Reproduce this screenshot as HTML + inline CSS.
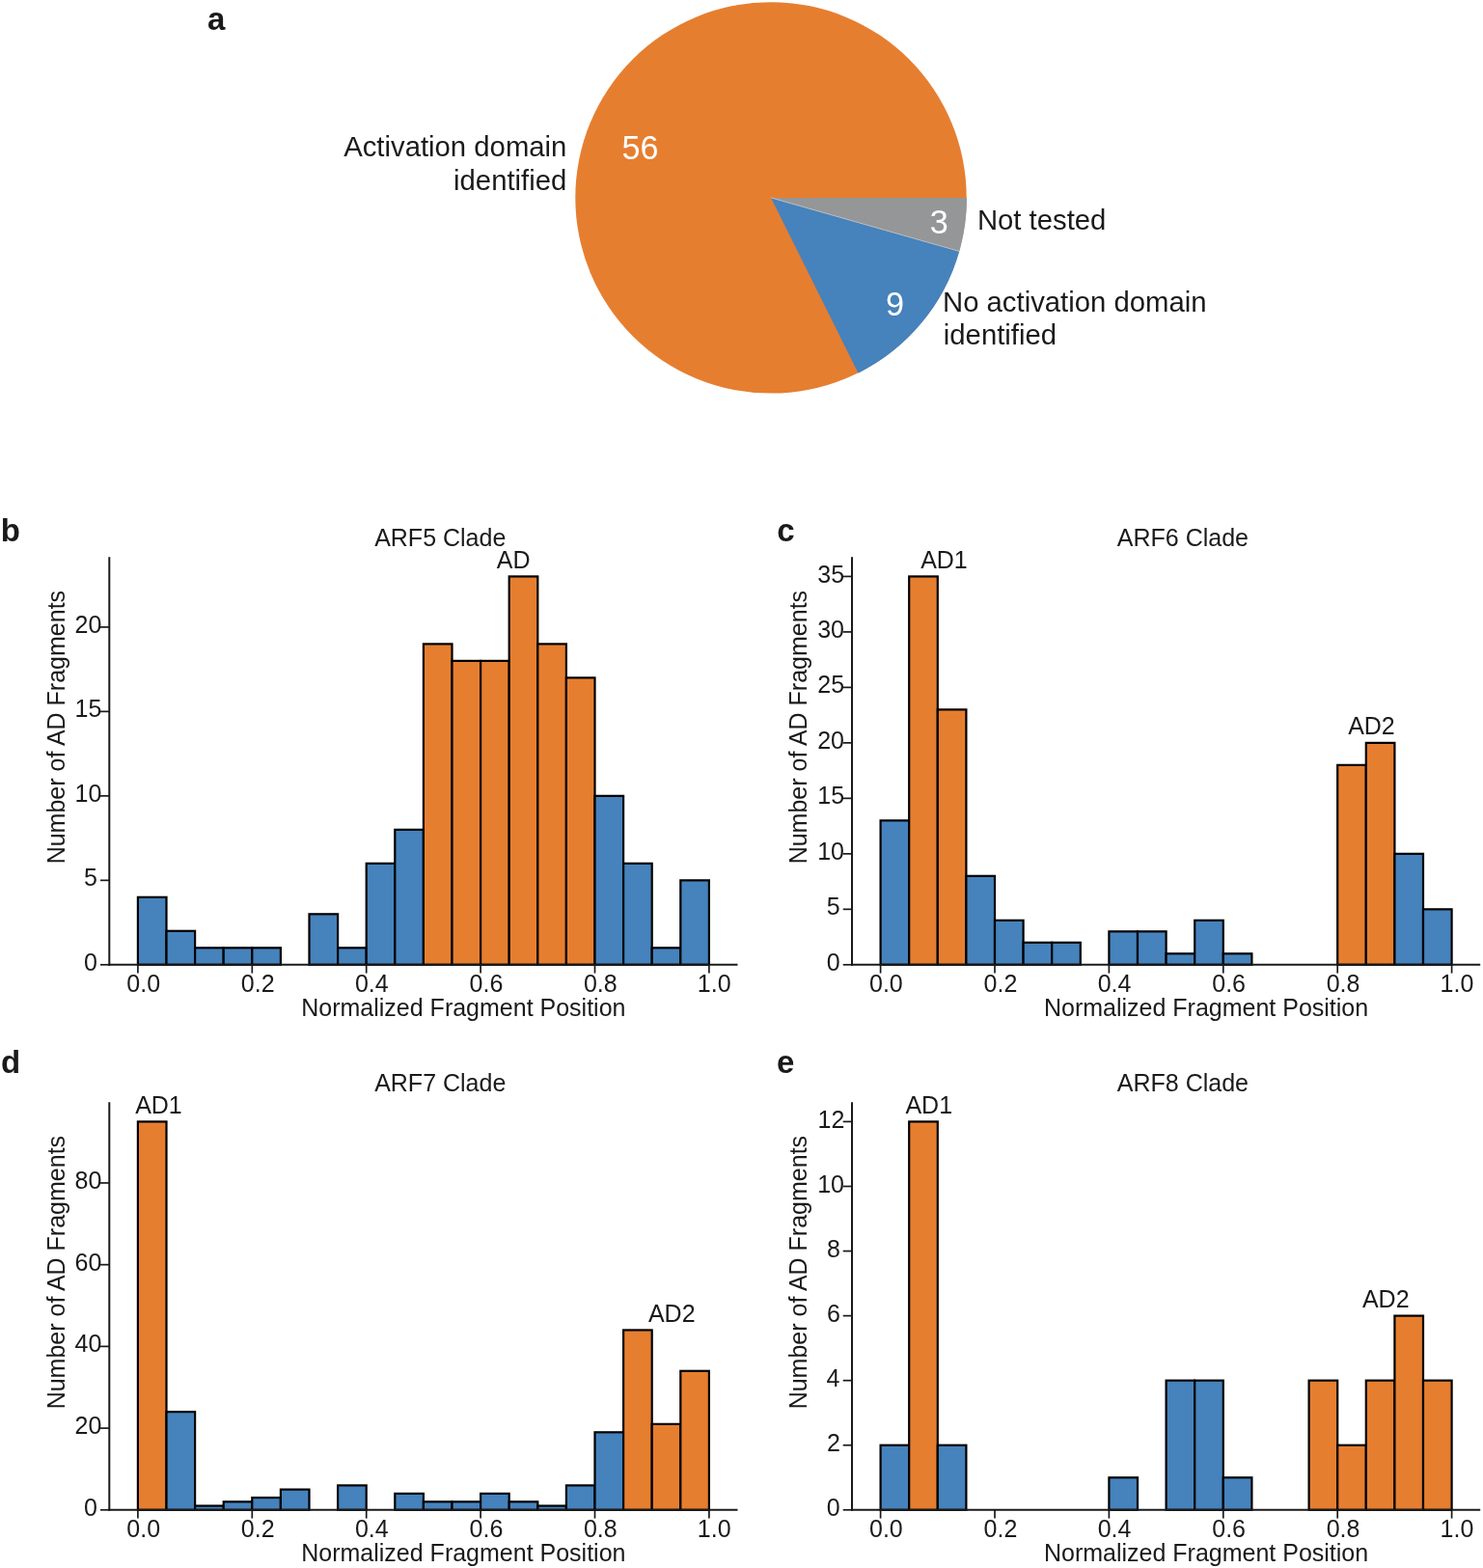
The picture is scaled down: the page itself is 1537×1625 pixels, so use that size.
<!DOCTYPE html>
<html><head><meta charset="utf-8"><style>
html,body{margin:0;padding:0;background:#fff;}
svg{display:block;}
text{font-family:"Liberation Sans",Arial,sans-serif;}
</style></head><body>
<svg width="1537" height="1625" viewBox="0 0 1537 1625">
<rect width="1537" height="1625" fill="#fff"/>
<circle cx="799.0" cy="204.9" r="202.7" fill="#e67e30"/>
<path d="M799.0,204.9 L889.51,386.66 A203.04999999999998,203.04999999999998 0 0 0 994.30,260.47 Z" fill="#4682bc"/>
<path d="M799.0,204.9 L994.30,260.47 A203.04999999999998,203.04999999999998 0 0 0 1002.05,204.90 Z" fill="#959698"/>
<line x1="799.0" y1="204.9" x2="993.96" y2="260.37" stroke="#c9d3de" stroke-width="0.7"/>
<text x="644.53" y="164.80" style="font-size:34.2px;fill:#ffffff" >56</text>
<text x="917.88" y="326.80" style="font-size:34.2px;fill:#ffffff" >9</text>
<text x="963.82" y="241.60" style="font-size:34.2px;fill:#ffffff" >3</text>
<text x="356.15" y="161.70" style="font-size:29.3px;fill:#1a1a1a" >Activation domain</text>
<text x="470.06" y="196.70" style="font-size:29.3px;fill:#1a1a1a" >identified</text>
<text x="1012.88" y="237.50" style="font-size:29.3px;fill:#1a1a1a" >Not tested</text>
<text x="976.98" y="322.60" style="font-size:29.3px;fill:#1a1a1a" >No activation domain</text>
<text x="977.82" y="357.10" style="font-size:29.3px;fill:#1a1a1a" >identified</text>
<text x="215.11" y="30.80" style="font-size:33px;font-weight:bold;fill:#1a1a1a" >a</text>
<text x="0.75" y="560.70" style="font-size:33px;font-weight:bold;fill:#1a1a1a" >b</text>
<text x="805.18" y="560.80" style="font-size:33px;font-weight:bold;fill:#1a1a1a" >c</text>
<text x="0.88" y="1111.60" style="font-size:33px;font-weight:bold;fill:#1a1a1a" >d</text>
<text x="804.88" y="1111.70" style="font-size:33px;font-weight:bold;fill:#1a1a1a" >e</text>
<rect x="142.90" y="929.82" width="29.60" height="69.98" fill="#4682bc" stroke="#000" stroke-width="2.2"/>
<rect x="172.50" y="964.81" width="29.60" height="34.99" fill="#4682bc" stroke="#000" stroke-width="2.2"/>
<rect x="202.10" y="982.31" width="29.60" height="17.49" fill="#4682bc" stroke="#000" stroke-width="2.2"/>
<rect x="231.70" y="982.31" width="29.60" height="17.49" fill="#4682bc" stroke="#000" stroke-width="2.2"/>
<rect x="261.30" y="982.31" width="29.60" height="17.49" fill="#4682bc" stroke="#000" stroke-width="2.2"/>
<rect x="320.50" y="947.32" width="29.60" height="52.48" fill="#4682bc" stroke="#000" stroke-width="2.2"/>
<rect x="350.10" y="982.31" width="29.60" height="17.49" fill="#4682bc" stroke="#000" stroke-width="2.2"/>
<rect x="379.70" y="894.83" width="29.60" height="104.97" fill="#4682bc" stroke="#000" stroke-width="2.2"/>
<rect x="409.30" y="859.84" width="29.60" height="139.96" fill="#4682bc" stroke="#000" stroke-width="2.2"/>
<rect x="438.90" y="667.40" width="29.60" height="332.40" fill="#e67e30" stroke="#000" stroke-width="2.2"/>
<rect x="468.50" y="684.89" width="29.60" height="314.91" fill="#e67e30" stroke="#000" stroke-width="2.2"/>
<rect x="498.10" y="684.89" width="29.60" height="314.91" fill="#e67e30" stroke="#000" stroke-width="2.2"/>
<rect x="527.70" y="597.42" width="29.60" height="402.38" fill="#e67e30" stroke="#000" stroke-width="2.2"/>
<rect x="557.30" y="667.40" width="29.60" height="332.40" fill="#e67e30" stroke="#000" stroke-width="2.2"/>
<rect x="586.90" y="702.39" width="29.60" height="297.41" fill="#e67e30" stroke="#000" stroke-width="2.2"/>
<rect x="616.50" y="824.85" width="29.60" height="174.95" fill="#4682bc" stroke="#000" stroke-width="2.2"/>
<rect x="646.10" y="894.83" width="29.60" height="104.97" fill="#4682bc" stroke="#000" stroke-width="2.2"/>
<rect x="675.70" y="982.31" width="29.60" height="17.49" fill="#4682bc" stroke="#000" stroke-width="2.2"/>
<rect x="705.30" y="912.33" width="29.60" height="87.47" fill="#4682bc" stroke="#000" stroke-width="2.2"/>
<line x1="113.30" y1="577.30" x2="113.30" y2="1000.80" stroke="#1a1a1a" stroke-width="2"/>
<line x1="112.30" y1="999.80" x2="764.50" y2="999.80" stroke="#1a1a1a" stroke-width="2"/>
<line x1="104.00" y1="999.80" x2="113.30" y2="999.80" stroke="#1a1a1a" stroke-width="1.7"/>
<text x="87.06" y="1005.90" style="font-size:25px;fill:#1a1a1a" >0</text>
<line x1="104.00" y1="912.33" x2="113.30" y2="912.33" stroke="#1a1a1a" stroke-width="1.7"/>
<text x="87.12" y="918.43" style="font-size:25px;fill:#1a1a1a" >5</text>
<line x1="104.00" y1="824.85" x2="113.30" y2="824.85" stroke="#1a1a1a" stroke-width="1.7"/>
<text x="77.49" y="830.95" style="font-size:25px;fill:#1a1a1a" >10</text>
<line x1="104.00" y1="737.38" x2="113.30" y2="737.38" stroke="#1a1a1a" stroke-width="1.7"/>
<text x="77.55" y="743.48" style="font-size:25px;fill:#1a1a1a" >15</text>
<line x1="104.00" y1="649.90" x2="113.30" y2="649.90" stroke="#1a1a1a" stroke-width="1.7"/>
<text x="77.49" y="656.00" style="font-size:25px;fill:#1a1a1a" >20</text>
<line x1="142.90" y1="999.80" x2="142.90" y2="1008.60" stroke="#1a1a1a" stroke-width="1.7"/>
<text x="131.29" y="1027.70" style="font-size:25px;fill:#1a1a1a" >0.0</text>
<line x1="261.30" y1="999.80" x2="261.30" y2="1008.60" stroke="#1a1a1a" stroke-width="1.7"/>
<text x="249.85" y="1027.70" style="font-size:25px;fill:#1a1a1a" >0.2</text>
<line x1="379.70" y1="999.80" x2="379.70" y2="1008.60" stroke="#1a1a1a" stroke-width="1.7"/>
<text x="367.97" y="1027.70" style="font-size:25px;fill:#1a1a1a" >0.4</text>
<line x1="498.10" y1="999.80" x2="498.10" y2="1008.60" stroke="#1a1a1a" stroke-width="1.7"/>
<text x="486.56" y="1027.70" style="font-size:25px;fill:#1a1a1a" >0.6</text>
<line x1="616.50" y1="999.80" x2="616.50" y2="1008.60" stroke="#1a1a1a" stroke-width="1.7"/>
<text x="604.96" y="1027.70" style="font-size:25px;fill:#1a1a1a" >0.8</text>
<line x1="734.90" y1="999.80" x2="734.90" y2="1008.60" stroke="#1a1a1a" stroke-width="1.7"/>
<text x="722.86" y="1027.70" style="font-size:25px;fill:#1a1a1a" >1.0</text>
<text x="312.24" y="1053.20" style="font-size:25px;fill:#1a1a1a" >Normalized Fragment Position</text>
<text x="388.14" y="566.00" style="font-size:25px;fill:#1a1a1a" >ARF5 Clade</text>
<text transform="translate(66.70,895.36) rotate(-90)" x="0" y="0" style="font-size:25px;fill:#1a1a1a">Number of AD Fragments</text>
<text x="514.74" y="588.70" style="font-size:25px;fill:#1a1a1a" >AD</text>
<rect x="912.60" y="850.34" width="29.60" height="149.46" fill="#4682bc" stroke="#000" stroke-width="2.2"/>
<rect x="942.20" y="597.42" width="29.60" height="402.38" fill="#e67e30" stroke="#000" stroke-width="2.2"/>
<rect x="971.80" y="735.38" width="29.60" height="264.42" fill="#e67e30" stroke="#000" stroke-width="2.2"/>
<rect x="1001.40" y="907.83" width="29.60" height="91.97" fill="#4682bc" stroke="#000" stroke-width="2.2"/>
<rect x="1031.00" y="953.81" width="29.60" height="45.99" fill="#4682bc" stroke="#000" stroke-width="2.2"/>
<rect x="1060.60" y="976.81" width="29.60" height="22.99" fill="#4682bc" stroke="#000" stroke-width="2.2"/>
<rect x="1090.20" y="976.81" width="29.60" height="22.99" fill="#4682bc" stroke="#000" stroke-width="2.2"/>
<rect x="1149.40" y="965.31" width="29.60" height="34.49" fill="#4682bc" stroke="#000" stroke-width="2.2"/>
<rect x="1179.00" y="965.31" width="29.60" height="34.49" fill="#4682bc" stroke="#000" stroke-width="2.2"/>
<rect x="1208.60" y="988.30" width="29.60" height="11.50" fill="#4682bc" stroke="#000" stroke-width="2.2"/>
<rect x="1238.20" y="953.81" width="29.60" height="45.99" fill="#4682bc" stroke="#000" stroke-width="2.2"/>
<rect x="1267.80" y="988.30" width="29.60" height="11.50" fill="#4682bc" stroke="#000" stroke-width="2.2"/>
<rect x="1386.20" y="792.86" width="29.60" height="206.94" fill="#e67e30" stroke="#000" stroke-width="2.2"/>
<rect x="1415.80" y="769.87" width="29.60" height="229.93" fill="#e67e30" stroke="#000" stroke-width="2.2"/>
<rect x="1445.40" y="884.83" width="29.60" height="114.97" fill="#4682bc" stroke="#000" stroke-width="2.2"/>
<rect x="1475.00" y="942.32" width="29.60" height="57.48" fill="#4682bc" stroke="#000" stroke-width="2.2"/>
<line x1="883.00" y1="577.30" x2="883.00" y2="1000.80" stroke="#1a1a1a" stroke-width="2"/>
<line x1="882.00" y1="999.80" x2="1534.20" y2="999.80" stroke="#1a1a1a" stroke-width="2"/>
<line x1="873.70" y1="999.80" x2="883.00" y2="999.80" stroke="#1a1a1a" stroke-width="1.7"/>
<text x="856.76" y="1005.90" style="font-size:25px;fill:#1a1a1a" >0</text>
<line x1="873.70" y1="942.32" x2="883.00" y2="942.32" stroke="#1a1a1a" stroke-width="1.7"/>
<text x="856.83" y="948.42" style="font-size:25px;fill:#1a1a1a" >5</text>
<line x1="873.70" y1="884.83" x2="883.00" y2="884.83" stroke="#1a1a1a" stroke-width="1.7"/>
<text x="847.19" y="890.93" style="font-size:25px;fill:#1a1a1a" >10</text>
<line x1="873.70" y1="827.35" x2="883.00" y2="827.35" stroke="#1a1a1a" stroke-width="1.7"/>
<text x="847.25" y="833.45" style="font-size:25px;fill:#1a1a1a" >15</text>
<line x1="873.70" y1="769.87" x2="883.00" y2="769.87" stroke="#1a1a1a" stroke-width="1.7"/>
<text x="847.19" y="775.97" style="font-size:25px;fill:#1a1a1a" >20</text>
<line x1="873.70" y1="712.39" x2="883.00" y2="712.39" stroke="#1a1a1a" stroke-width="1.7"/>
<text x="847.25" y="718.49" style="font-size:25px;fill:#1a1a1a" >25</text>
<line x1="873.70" y1="654.90" x2="883.00" y2="654.90" stroke="#1a1a1a" stroke-width="1.7"/>
<text x="847.19" y="661.00" style="font-size:25px;fill:#1a1a1a" >30</text>
<line x1="873.70" y1="597.42" x2="883.00" y2="597.42" stroke="#1a1a1a" stroke-width="1.7"/>
<text x="847.25" y="603.52" style="font-size:25px;fill:#1a1a1a" >35</text>
<line x1="912.60" y1="999.80" x2="912.60" y2="1008.60" stroke="#1a1a1a" stroke-width="1.7"/>
<text x="900.99" y="1027.70" style="font-size:25px;fill:#1a1a1a" >0.0</text>
<line x1="1031.00" y1="999.80" x2="1031.00" y2="1008.60" stroke="#1a1a1a" stroke-width="1.7"/>
<text x="1019.55" y="1027.70" style="font-size:25px;fill:#1a1a1a" >0.2</text>
<line x1="1149.40" y1="999.80" x2="1149.40" y2="1008.60" stroke="#1a1a1a" stroke-width="1.7"/>
<text x="1137.67" y="1027.70" style="font-size:25px;fill:#1a1a1a" >0.4</text>
<line x1="1267.80" y1="999.80" x2="1267.80" y2="1008.60" stroke="#1a1a1a" stroke-width="1.7"/>
<text x="1256.26" y="1027.70" style="font-size:25px;fill:#1a1a1a" >0.6</text>
<line x1="1386.20" y1="999.80" x2="1386.20" y2="1008.60" stroke="#1a1a1a" stroke-width="1.7"/>
<text x="1374.66" y="1027.70" style="font-size:25px;fill:#1a1a1a" >0.8</text>
<line x1="1504.60" y1="999.80" x2="1504.60" y2="1008.60" stroke="#1a1a1a" stroke-width="1.7"/>
<text x="1492.56" y="1027.70" style="font-size:25px;fill:#1a1a1a" >1.0</text>
<text x="1081.94" y="1053.20" style="font-size:25px;fill:#1a1a1a" >Normalized Fragment Position</text>
<text x="1157.84" y="566.00" style="font-size:25px;fill:#1a1a1a" >ARF6 Clade</text>
<text transform="translate(836.40,895.36) rotate(-90)" x="0" y="0" style="font-size:25px;fill:#1a1a1a">Number of AD Fragments</text>
<text x="954.14" y="588.80" style="font-size:25px;fill:#1a1a1a" >AD1</text>
<text x="1397.14" y="760.70" style="font-size:25px;fill:#1a1a1a" >AD2</text>
<rect x="142.90" y="1162.42" width="29.60" height="402.38" fill="#e67e30" stroke="#000" stroke-width="2.2"/>
<rect x="172.50" y="1463.15" width="29.60" height="101.65" fill="#4682bc" stroke="#000" stroke-width="2.2"/>
<rect x="202.10" y="1560.56" width="29.60" height="4.24" fill="#4682bc" stroke="#000" stroke-width="2.2"/>
<rect x="231.70" y="1556.33" width="29.60" height="8.47" fill="#4682bc" stroke="#000" stroke-width="2.2"/>
<rect x="261.30" y="1552.09" width="29.60" height="12.71" fill="#4682bc" stroke="#000" stroke-width="2.2"/>
<rect x="290.90" y="1543.62" width="29.60" height="21.18" fill="#4682bc" stroke="#000" stroke-width="2.2"/>
<rect x="350.10" y="1539.39" width="29.60" height="25.41" fill="#4682bc" stroke="#000" stroke-width="2.2"/>
<rect x="409.30" y="1547.86" width="29.60" height="16.94" fill="#4682bc" stroke="#000" stroke-width="2.2"/>
<rect x="438.90" y="1556.33" width="29.60" height="8.47" fill="#4682bc" stroke="#000" stroke-width="2.2"/>
<rect x="468.50" y="1556.33" width="29.60" height="8.47" fill="#4682bc" stroke="#000" stroke-width="2.2"/>
<rect x="498.10" y="1547.86" width="29.60" height="16.94" fill="#4682bc" stroke="#000" stroke-width="2.2"/>
<rect x="527.70" y="1556.33" width="29.60" height="8.47" fill="#4682bc" stroke="#000" stroke-width="2.2"/>
<rect x="557.30" y="1560.56" width="29.60" height="4.24" fill="#4682bc" stroke="#000" stroke-width="2.2"/>
<rect x="586.90" y="1539.39" width="29.60" height="25.41" fill="#4682bc" stroke="#000" stroke-width="2.2"/>
<rect x="616.50" y="1484.32" width="29.60" height="80.48" fill="#4682bc" stroke="#000" stroke-width="2.2"/>
<rect x="646.10" y="1378.43" width="29.60" height="186.37" fill="#e67e30" stroke="#000" stroke-width="2.2"/>
<rect x="675.70" y="1475.85" width="29.60" height="88.95" fill="#e67e30" stroke="#000" stroke-width="2.2"/>
<rect x="705.30" y="1420.79" width="29.60" height="144.01" fill="#e67e30" stroke="#000" stroke-width="2.2"/>
<line x1="113.30" y1="1142.30" x2="113.30" y2="1565.80" stroke="#1a1a1a" stroke-width="2"/>
<line x1="112.30" y1="1564.80" x2="764.50" y2="1564.80" stroke="#1a1a1a" stroke-width="2"/>
<line x1="104.00" y1="1564.80" x2="113.30" y2="1564.80" stroke="#1a1a1a" stroke-width="1.7"/>
<text x="87.06" y="1570.90" style="font-size:25px;fill:#1a1a1a" >0</text>
<line x1="104.00" y1="1480.09" x2="113.30" y2="1480.09" stroke="#1a1a1a" stroke-width="1.7"/>
<text x="77.49" y="1486.19" style="font-size:25px;fill:#1a1a1a" >20</text>
<line x1="104.00" y1="1395.38" x2="113.30" y2="1395.38" stroke="#1a1a1a" stroke-width="1.7"/>
<text x="77.49" y="1401.48" style="font-size:25px;fill:#1a1a1a" >40</text>
<line x1="104.00" y1="1310.66" x2="113.30" y2="1310.66" stroke="#1a1a1a" stroke-width="1.7"/>
<text x="77.49" y="1316.76" style="font-size:25px;fill:#1a1a1a" >60</text>
<line x1="104.00" y1="1225.95" x2="113.30" y2="1225.95" stroke="#1a1a1a" stroke-width="1.7"/>
<text x="77.49" y="1232.05" style="font-size:25px;fill:#1a1a1a" >80</text>
<line x1="142.90" y1="1564.80" x2="142.90" y2="1573.60" stroke="#1a1a1a" stroke-width="1.7"/>
<text x="131.29" y="1592.70" style="font-size:25px;fill:#1a1a1a" >0.0</text>
<line x1="261.30" y1="1564.80" x2="261.30" y2="1573.60" stroke="#1a1a1a" stroke-width="1.7"/>
<text x="249.85" y="1592.70" style="font-size:25px;fill:#1a1a1a" >0.2</text>
<line x1="379.70" y1="1564.80" x2="379.70" y2="1573.60" stroke="#1a1a1a" stroke-width="1.7"/>
<text x="367.97" y="1592.70" style="font-size:25px;fill:#1a1a1a" >0.4</text>
<line x1="498.10" y1="1564.80" x2="498.10" y2="1573.60" stroke="#1a1a1a" stroke-width="1.7"/>
<text x="486.56" y="1592.70" style="font-size:25px;fill:#1a1a1a" >0.6</text>
<line x1="616.50" y1="1564.80" x2="616.50" y2="1573.60" stroke="#1a1a1a" stroke-width="1.7"/>
<text x="604.96" y="1592.70" style="font-size:25px;fill:#1a1a1a" >0.8</text>
<line x1="734.90" y1="1564.80" x2="734.90" y2="1573.60" stroke="#1a1a1a" stroke-width="1.7"/>
<text x="722.86" y="1592.70" style="font-size:25px;fill:#1a1a1a" >1.0</text>
<text x="312.24" y="1618.20" style="font-size:25px;fill:#1a1a1a" >Normalized Fragment Position</text>
<text x="388.14" y="1131.00" style="font-size:25px;fill:#1a1a1a" >ARF7 Clade</text>
<text transform="translate(66.70,1460.36) rotate(-90)" x="0" y="0" style="font-size:25px;fill:#1a1a1a">Number of AD Fragments</text>
<text x="140.14" y="1153.80" style="font-size:25px;fill:#1a1a1a" >AD1</text>
<text x="671.94" y="1369.90" style="font-size:25px;fill:#1a1a1a" >AD2</text>
<rect x="912.60" y="1497.74" width="29.60" height="67.06" fill="#4682bc" stroke="#000" stroke-width="2.2"/>
<rect x="942.20" y="1162.42" width="29.60" height="402.38" fill="#e67e30" stroke="#000" stroke-width="2.2"/>
<rect x="971.80" y="1497.74" width="29.60" height="67.06" fill="#4682bc" stroke="#000" stroke-width="2.2"/>
<rect x="1149.40" y="1531.27" width="29.60" height="33.53" fill="#4682bc" stroke="#000" stroke-width="2.2"/>
<rect x="1208.60" y="1430.67" width="29.60" height="134.13" fill="#4682bc" stroke="#000" stroke-width="2.2"/>
<rect x="1238.20" y="1430.67" width="29.60" height="134.13" fill="#4682bc" stroke="#000" stroke-width="2.2"/>
<rect x="1267.80" y="1531.27" width="29.60" height="33.53" fill="#4682bc" stroke="#000" stroke-width="2.2"/>
<rect x="1356.60" y="1430.67" width="29.60" height="134.13" fill="#e67e30" stroke="#000" stroke-width="2.2"/>
<rect x="1386.20" y="1497.74" width="29.60" height="67.06" fill="#e67e30" stroke="#000" stroke-width="2.2"/>
<rect x="1415.80" y="1430.67" width="29.60" height="134.13" fill="#e67e30" stroke="#000" stroke-width="2.2"/>
<rect x="1445.40" y="1363.61" width="29.60" height="201.19" fill="#e67e30" stroke="#000" stroke-width="2.2"/>
<rect x="1475.00" y="1430.67" width="29.60" height="134.13" fill="#e67e30" stroke="#000" stroke-width="2.2"/>
<line x1="883.00" y1="1142.30" x2="883.00" y2="1565.80" stroke="#1a1a1a" stroke-width="2"/>
<line x1="882.00" y1="1564.80" x2="1534.20" y2="1564.80" stroke="#1a1a1a" stroke-width="2"/>
<line x1="873.70" y1="1564.80" x2="883.00" y2="1564.80" stroke="#1a1a1a" stroke-width="1.7"/>
<text x="856.76" y="1570.90" style="font-size:25px;fill:#1a1a1a" >0</text>
<line x1="873.70" y1="1497.74" x2="883.00" y2="1497.74" stroke="#1a1a1a" stroke-width="1.7"/>
<text x="857.08" y="1503.84" style="font-size:25px;fill:#1a1a1a" >2</text>
<line x1="873.70" y1="1430.67" x2="883.00" y2="1430.67" stroke="#1a1a1a" stroke-width="1.7"/>
<text x="856.51" y="1436.77" style="font-size:25px;fill:#1a1a1a" >4</text>
<line x1="873.70" y1="1363.61" x2="883.00" y2="1363.61" stroke="#1a1a1a" stroke-width="1.7"/>
<text x="856.89" y="1369.71" style="font-size:25px;fill:#1a1a1a" >6</text>
<line x1="873.70" y1="1296.55" x2="883.00" y2="1296.55" stroke="#1a1a1a" stroke-width="1.7"/>
<text x="856.89" y="1302.65" style="font-size:25px;fill:#1a1a1a" >8</text>
<line x1="873.70" y1="1229.48" x2="883.00" y2="1229.48" stroke="#1a1a1a" stroke-width="1.7"/>
<text x="847.19" y="1235.58" style="font-size:25px;fill:#1a1a1a" >10</text>
<line x1="873.70" y1="1162.42" x2="883.00" y2="1162.42" stroke="#1a1a1a" stroke-width="1.7"/>
<text x="847.50" y="1168.52" style="font-size:25px;fill:#1a1a1a" >12</text>
<line x1="912.60" y1="1564.80" x2="912.60" y2="1573.60" stroke="#1a1a1a" stroke-width="1.7"/>
<text x="900.99" y="1592.70" style="font-size:25px;fill:#1a1a1a" >0.0</text>
<line x1="1031.00" y1="1564.80" x2="1031.00" y2="1573.60" stroke="#1a1a1a" stroke-width="1.7"/>
<text x="1019.55" y="1592.70" style="font-size:25px;fill:#1a1a1a" >0.2</text>
<line x1="1149.40" y1="1564.80" x2="1149.40" y2="1573.60" stroke="#1a1a1a" stroke-width="1.7"/>
<text x="1137.67" y="1592.70" style="font-size:25px;fill:#1a1a1a" >0.4</text>
<line x1="1267.80" y1="1564.80" x2="1267.80" y2="1573.60" stroke="#1a1a1a" stroke-width="1.7"/>
<text x="1256.26" y="1592.70" style="font-size:25px;fill:#1a1a1a" >0.6</text>
<line x1="1386.20" y1="1564.80" x2="1386.20" y2="1573.60" stroke="#1a1a1a" stroke-width="1.7"/>
<text x="1374.66" y="1592.70" style="font-size:25px;fill:#1a1a1a" >0.8</text>
<line x1="1504.60" y1="1564.80" x2="1504.60" y2="1573.60" stroke="#1a1a1a" stroke-width="1.7"/>
<text x="1492.56" y="1592.70" style="font-size:25px;fill:#1a1a1a" >1.0</text>
<text x="1081.94" y="1618.20" style="font-size:25px;fill:#1a1a1a" >Normalized Fragment Position</text>
<text x="1157.84" y="1131.00" style="font-size:25px;fill:#1a1a1a" >ARF8 Clade</text>
<text transform="translate(836.40,1460.36) rotate(-90)" x="0" y="0" style="font-size:25px;fill:#1a1a1a">Number of AD Fragments</text>
<text x="938.44" y="1153.90" style="font-size:25px;fill:#1a1a1a" >AD1</text>
<text x="1411.94" y="1354.90" style="font-size:25px;fill:#1a1a1a" >AD2</text>
</svg>
</body></html>
